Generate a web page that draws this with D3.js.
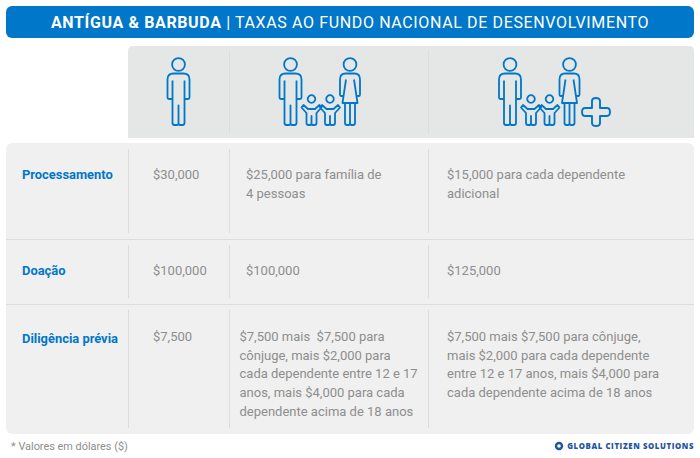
<!DOCTYPE html>
<html>
<head>
<meta charset="utf-8">
<script src="https://cdn.jsdelivr.net/npm/d3@7"></script>
<style>
  html, body { margin: 0; padding: 0; background: #fff; }
  svg { display: block; font-family: Roboto, sans-serif; }
</style>
</head>
<body>
<div id="chart"></div>
<script>
// Table content
const titleBold = "ANTÍGUA & BARBUDA";
const titleRest = " | TAXAS AO FUNDO NACIONAL DE DESENVOLVIMENTO";
const rowLabels = ["Processamento", "Doação", "Diligência prévia"];
const singleValues = [["$30,000"], ["$100,000"], ["$7,500"]];
const familyValues = [
  ["$25,000 para família de", "4 pessoas"],
  ["$100,000"],
  ["$7,500 mais  $7,500 para", "cônjuge, mais $2,000 para", "cada dependente entre 12 e 17", "anos, mais $4,000 para cada", "dependente acima de 18 anos"]
];
const extraValues = [
  ["$15,000 para cada dependente", "adicional"],
  ["$125,000"],
  ["$7,500 mais $7,500 para cônjuge,", "mais $2,000 para cada dependente", "entre 12 e 17 anos, mais $4,000 para", "cada dependente acima de 18 anos"]
];
const footnote = "* Valores em dólares ($)";
const brand = "GLOBAL CITIZEN SOLUTIONS";

const width = 700, height = 458;
const blue = "#0077c8", grey = "#8e8e8e", rule = "#dcdddd";

const svg = d3.select("#chart").append("svg")
  .attr("width", width)
  .attr("height", height);

// Header
svg.append("rect").attr("x", 6).attr("y", 6).attr("width", 688).attr("height", 32).attr("rx", 6).attr("fill", blue);
const title = svg.append("text")
  .attr("x", 350).attr("y", 28)
  .attr("text-anchor", "middle")
  .attr("fill", "#fff")
  .attr("font-size", 16)
  .attr("letter-spacing", 0.63);
title.append("tspan").attr("font-weight", 700).text(titleBold);
title.append("tspan").attr("font-weight", 400).text(titleRest);

// Panels
svg.append("path").attr("d", "M128,138V51Q128,46 133,46H689Q694,46 694,51V138Z").attr("fill", "#e5e6e6");
svg.append("rect").attr("x", 6).attr("y", 143).attr("width", 688).attr("height", 291).attr("rx", 6).attr("fill", "#f0f0f0");

// Rows and columns
const rowTop = d3.scaleOrdinal().domain(rowLabels).range([143, 239, 304]);
const rowBottom = d3.scaleOrdinal().domain(rowLabels).range([239, 304, 434]);
const rowBaseline = d3.scaleOrdinal().domain(rowLabels).range([179, 275, 343]);
const lineStep = 18.7;

svg.selectAll("line.row").data(rowLabels.slice(1)).join("line")
  .attr("class", "row")
  .attr("x1", 6).attr("x2", 694)
  .attr("y1", d => rowTop(d) + 0.5).attr("y2", d => rowTop(d) + 0.5)
  .attr("stroke", rule).attr("stroke-width", 1);

const dividers = [128.5, 229.5, 428.5];
dividers.forEach((x, i) => {
  if (i > 0) {
    svg.append("line").attr("x1", x).attr("x2", x).attr("y1", 50).attr("y2", 134).attr("stroke", rule);
  }
  rowLabels.forEach(r => {
    svg.append("line").attr("x1", x).attr("x2", x)
      .attr("y1", rowTop(r) + 6).attr("y2", rowBottom(r) - 6)
      .attr("stroke", rule);
  });
});

// Row labels
svg.selectAll("text.label").data(rowLabels).join("text")
  .attr("class", "label")
  .attr("x", 22)
  .attr("y", d => rowBaseline(d))
  .attr("fill", blue)
  .attr("font-size", 12.9)
  .attr("font-weight", 700)
  .text(d => d);

// Cell text, one column at a time
function drawColumn(values, xFor) {
  rowLabels.forEach((r, i) => {
    svg.selectAll(null).data(values[i]).join("text")
      .attr("x", xFor(r))
      .attr("y", (d, j) => (r === rowLabels[2] ? 341 : rowBaseline(r)) + j * lineStep)
      .attr("fill", grey)
      .attr("font-size", 13)
      .style("white-space", "pre")
      .text(d => d);
  });
}
drawColumn(singleValues, () => 153);
drawColumn(familyValues, r => r === rowLabels[2] ? 239.5 : 246);
drawColumn(extraValues, () => 447);

// Icons
const manPath = "M-6,16V34.5H-9.5Q-11,34.5 -11,33V15Q-11,9 -5,9H5Q11,9 11,15V33Q11,34.5 9.5,34.5H6V16" +
  "M-6,34V58.5Q-6,60.5 -4,60.5H-1.5Q0,60.5 0,58.5V41V58.5Q0,60.5 1.5,60.5H4Q6,60.5 6,58.5V34";
const womanPath = "M-7,31.5H-9Q-10,31.5 -10,30V15Q-10,9 -4.5,9H4.5Q10,9 10,15V30Q10,31.5 9,31.5H7" +
  "M-4,15L-7.5,38.5H7.5L4,15" +
  "M-5,38.5V58.5Q-5,60.5 -3,60.5H-1.5Q0,60.5 0,58.5V38.5V58.5Q0,60.5 1.5,60.5H3Q5,60.5 5,58.5V38.5";
const childPath = "M-5,14L-10,8.5L-8,6L-3.5,10H3.5L8,6L10,8.5L5,14V24Q5,26 3,26H1.5Q0,26 0,24V17V24Q0,26 -1.5,26H-3Q-5,26 -5,24Z";

function person(x, y, path, r) {
  const g = svg.append("g")
    .attr("transform", `translate(${x},${y})`)
    .attr("fill", "none")
    .attr("stroke", blue)
    .attr("stroke-width", 1.8)
    .attr("stroke-linejoin", "round");
  g.append("circle").attr("r", r);
  g.append("path").attr("d", path);
}
person(178.5, 64.5, manPath, 6.4);

person(290.5, 64.5, manPath, 6.4);
person(311.5, 99, childPath, 3.8);
person(330, 99, childPath, 3.8);
person(350, 64.5, womanPath, 6.4);

person(510, 64.5, manPath, 6.4);
person(531, 99, childPath, 3.8);
person(549.5, 99, childPath, 3.8);
person(569.5, 64.5, womanPath, 6.4);

svg.append("path")
  .attr("transform", "translate(596,112)")
  .attr("fill", "none")
  .attr("stroke", blue)
  .attr("stroke-width", 1.9)
  .attr("stroke-linejoin", "round")
  .attr("d", "M-4,-11Q-4,-14 0,-14Q4,-14 4,-11V-4H11Q14,-4 14,0Q14,4 11,4H4V11Q4,14 0,14Q-4,14 -4,11V4H-11Q-14,4 -14,0Q-14,-4 -11,-4H-4Z");

// Footer
svg.append("text")
  .attr("x", 11).attr("y", 450)
  .attr("fill", grey)
  .attr("font-size", 10.9)
  .text(footnote);

svg.append("circle").attr("cx", 559).attr("cy", 446).attr("r", 3).attr("fill", "none").attr("stroke", "#1f55a5").attr("stroke-width", 2.4);
svg.append("text")
  .attr("x", 694).attr("y", 449)
  .attr("text-anchor", "end")
  .attr("fill", "#1f55a5")
  .attr("font-family", "'Open Sans', sans-serif")
  .attr("font-weight", 800)
  .attr("font-size", 7.8)
  .attr("letter-spacing", 0.6)
  .text(brand);
</script>
</body>
</html>
